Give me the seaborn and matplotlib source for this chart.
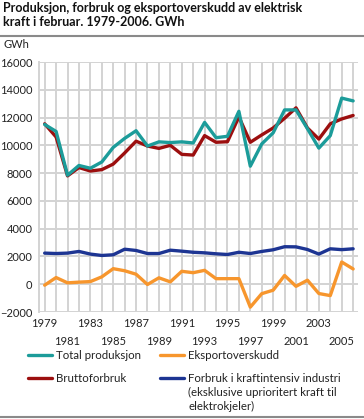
import matplotlib
matplotlib.use('Agg')
import pandas as pd
import matplotlib.pyplot as plt
import seaborn as sns
from matplotlib.lines import Line2D
from matplotlib.ticker import FixedLocator, FixedFormatter

# Data, GWh in February
years = list(range(1979, 2007))
total_produksjon = [11500, 11000, 7850, 8550, 8350, 8800, 9850, 10500, 11050, 9950,
                    10250, 10200, 10250, 10170, 11650, 10550, 10650, 12450, 8500, 10100,
                    10900, 12550, 12550, 11200, 9800, 10700, 13400, 13200]
bruttoforbruk = [11550, 10600, 7800, 8400, 8150, 8250, 8650, 9450, 10300, 9950,
                 9780, 10000, 9350, 9300, 10700, 10220, 10260, 12050, 10220, 10750,
                 11250, 11950, 12700, 11250, 10450, 11550, 11900, 12150]
eksportoverskudd = [-70, 480, 100, 150, 190, 530, 1120, 970, 720, -20,
                    460, 170, 930, 830, 1000, 400, 400, 400, -1650, -680,
                    -430, 630, -150, 290, -670, -820, 1600, 1100]
kraftintensiv = [2240, 2210, 2240, 2360, 2170, 2070, 2120, 2520, 2430, 2210,
                 2210, 2450, 2380, 2300, 2260, 2190, 2140, 2300, 2210, 2360,
                 2480, 2700, 2690, 2500, 2170, 2550, 2490, 2550]

series_names = ['Total produksjon', 'Bruttoforbruk', 'Eksportoverskudd',
                'Forbruk i kraftintensiv industri\n(eksklusive uprioritert kraft til\nelektrokjeler)']
colors = ['#1c9c9a', '#9c0f0f', '#f7962d', '#1d3593']

df = pd.concat([
    pd.DataFrame({'År': years, 'GWh': vals, 'Serie': name})
    for name, vals in zip(series_names,
                          [total_produksjon, bruttoforbruk, eksportoverskudd, kraftintensiv])
])

sns.set_style('white')
plt.rcParams['font.family'] = ['Lato', 'DejaVu Sans']

W, H = 364, 419
fig = plt.figure(figsize=(W / 100, H / 100), dpi=100)

def fx(px):
    return px / W

def fy(py):
    return 1 - py / H

ax = fig.add_axes([fx(39.3), fy(312), (357.7 - 39.3) / W, (312 - 62) / H])

palette = dict(zip(series_names, colors))
hue_order = [series_names[1], series_names[0], series_names[2], series_names[3]]
sns.lineplot(data=df, x='År', y='GWh', hue='Serie', hue_order=hue_order,
             palette=palette, linewidth=2.4, ax=ax, legend=False)

ax.set_xlim(1978.53, 2006.4)
ax.set_ylim(-2000, 16000)
ax.set_yticks(range(-2000, 16001, 2000))

# two staggered rows of year labels; a grid line at every year
row1 = [y for y in years if (y - 1979) % 4 == 0]
rest = [y for y in years if (y - 1979) % 4 != 0]
ax.xaxis.set_major_locator(FixedLocator(row1))
ax.xaxis.set_major_formatter(FixedFormatter([str(y) for y in row1]))
ax.xaxis.set_minor_locator(FixedLocator(rest))
ax.xaxis.set_minor_formatter(FixedFormatter([str(y) if (y - 1979) % 4 == 2 else '' for y in rest]))
ax.grid(True, which='both', color='#d3d3d3', lw=1.4)
ax.set_axisbelow(True)
ax.tick_params(which='both', length=0, labelsize=8, colors='#222222')
ax.tick_params(axis='y', pad=5)
ax.tick_params(axis='x', which='major', pad=4)
ax.tick_params(axis='x', which='minor', pad=17)
for s in ['top', 'right', 'bottom']:
    ax.spines[s].set_visible(False)
ax.spines['left'].set_color('#d3d3d3')
ax.spines['left'].set_linewidth(1.4)
ax.set_xlabel('')
ax.set_ylabel('')

# title, unit and rules
fig.text(fx(3), fy(11.5), 'Produksjon, forbruk og eksportoverskudd av elektrisk',
         fontsize=9, fontweight='bold', va='baseline', ha='left', color='#111111')
fig.text(fx(3), fy(26.5), 'kraft i februar. 1979-2006. GWh',
         fontsize=9, fontweight='bold', va='baseline', ha='left', color='#111111')
fig.add_artist(Line2D([0, 1], [fy(36), fy(36)], color='#8a8a8a', lw=1.5))
fig.add_artist(Line2D([0, 1], [fy(417), fy(417)], color='#8a8a8a', lw=1.5))
fig.text(fx(3), fy(44), 'GWh', fontsize=8, va='center', ha='left', color='#222222')

# legend
legend_pos = [(28, 355), (28, 378), (160, 355), (160, 378)]
for (lx, ly), name, c in zip(legend_pos, series_names, colors):
    fig.add_artist(Line2D([fx(lx), fx(lx + 24)], [fy(ly), fy(ly)], color=c, lw=2.4))
    for i, line in enumerate(name.split('\n')):
        fig.text(fx(lx + 28), fy(ly + 14 * i), line, fontsize=8.3, va='center', ha='left',
                 color='#222222')

fig.savefig('out.png', dpi=100)
